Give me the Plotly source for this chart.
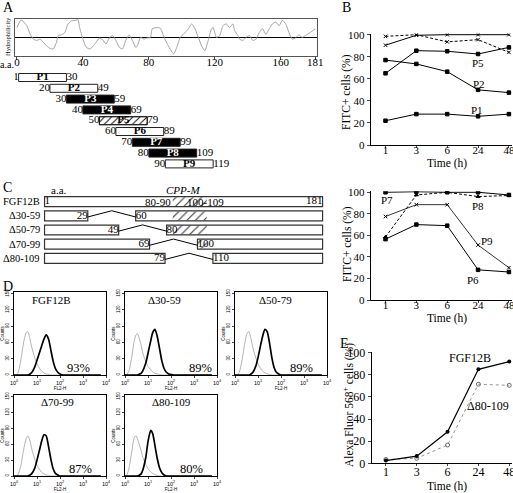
import plotly.graph_objects as go

W, H = 513, 493
SERIF = "Liberation Serif"
SANS = "Liberation Sans"

# ---------------- data ----------------
hyd_aa = [0, 2, 3, 6, 8, 10, 12, 14, 16, 18, 20, 22, 24, 25, 27, 29, 31, 33, 36, 37, 38, 40,
          42, 44, 46, 48, 50, 52, 54, 56, 58, 60, 62, 64, 66, 68, 70, 72, 73, 75, 77, 79, 81,
          82, 85, 87, 89, 91, 95, 97, 99, 101, 104, 106, 108, 110, 112, 114, 116, 118, 119,
          121, 123, 125, 127, 129, 131, 132, 134, 135, 137, 139, 141, 143, 145, 147, 149, 151,
          153, 155, 157, 159, 161, 163, 165, 167, 169, 171, 173, 175, 178, 181]
hyd_val = [1.6, 2.7, 2.8, 1.9, 0.5, -0.3, -0.5, -0.3, -0.8, -1.4, -1.8, -1.9, -0.8, 0.3, 0.4,
           0.8, 2.2, 2.7, 2.8, 2.9, 1.6, -0.3, -1.6, -1.9, -1.5, -0.8, -0.1, -0.4, -1.1, -0.1,
           0.3, -0.5, -1.6, -1.9, -0.5, 0.4, -0.5, -1.6, -1.4, 0.0, -0.3, -0.1, 0.0, 1.4, 1.6,
           1.5, 0.2, -1.0, -2.7, -1.6, 0.0, 0.5, 1.4, 2.2, 1.4, 0.0, -1.4, -2.2, -0.5, 1.4, 1.6,
           0.0, 0.3, 1.9, 2.2, 1.6, 2.2, 1.1, 0.3, -0.3, -0.5, 0.0, 0.3, -0.5, -0.3, 0.8, 1.4,
           0.5, 1.4, 2.2, 2.5, 1.9, 2.8, 2.2, 0.8, -0.3, -0.1, 0.4, 0.0, 0.3, 0.8, 1.4]
a_ticks = [0, 40, 80, 120, 160, 181]

pep_names = ["P1", "P2", "P3", "P4", "P5", "P6", "P7", "P8", "P9"]
pep_start = [1, 20, 30, 40, 50, 60, 70, 80, 90]
pep_end = [30, 49, 59, 69, 79, 89, 99, 109, 119]
pep_fill = ["open", "open", "solid", "solid", "hatched", "open", "solid", "solid", "open"]

time_labels = ["1", "3", "6", "24", "48"]
b_p1 = [22, 28, 28, 26, 28]
b_p2 = [77, 73.5, 66.5, 50, 47.5]
b_p3 = [98.5, 100, 93.5, 95.5, 84]
b_p4 = [90.5, 99.5, 100, 100, 100]
b_p5 = [65, 85.5, 85, 82.5, 88.5]
b_p6 = [56.5, 70, 69, 28, 26]
b_p7 = [100, 100.5, 100, 100, 97.5]
b_p8 = [58.5, 97.5, 100, 96, 97]
b_p9 = [77.5, 88.5, 88.5, 51, 30]

e_fgf12b = [2.5, 6.5, 28.5, 85, 92]
e_d80_109 = [3.5, 4.5, 16.5, 71.5, 70.5]

c_names = ["FGF12B", "\u039430-59", "\u039450-79", "\u039470-99", "\u039480-109"]
c_full = 181
c_left_end = [181, 29, 49, 69, 79]
c_right_start = [None, 60, 80, 100, 110]
cpp_lo, cpp_hi = 84, 106

fl_grid = [1, 1.2, 1.5, 2, 2.5, 3, 3.5, 4, 5, 6, 8, 10, 13, 16, 20, 25, 32, 40, 50, 63, 80,
           100, 130, 160, 200, 400, 1000, 3000, 6000]
d_names = ["FGF12B", "\u039430-59", "\u039450-79", "\u039470-99", "\u039480-109"]
d_pct = ["93%", "89%", "89%", "87%", "80%"]
d_ctrl = [
    [0, 0, 4, 28, 55, 72, 79, 80, 65, 50, 32, 20, 12, 7, 4, 2, 1, 0, 0, 0, 0, 0, 0, 0, 0, 0, 0, 0, 0],
    [0, 1, 8, 35, 62, 74, 76, 70, 55, 40, 25, 16, 10, 6, 3, 2, 1, 0, 0, 0, 0, 0, 0, 0, 0, 0, 0, 0, 0],
    [0, 0, 4, 26, 52, 70, 78, 80, 66, 50, 32, 20, 12, 7, 4, 2, 1, 0, 0, 0, 0, 0, 0, 0, 0, 0, 0, 0, 0],
    [0, 0, 3, 20, 45, 62, 72, 76, 66, 50, 32, 20, 12, 7, 4, 2, 1, 0, 0, 0, 0, 0, 0, 0, 0, 0, 0, 0, 0],
    [0, 2, 15, 48, 72, 76, 70, 62, 48, 35, 22, 14, 8, 5, 3, 1, 0, 0, 0, 0, 0, 0, 0, 0, 0, 0, 0, 0, 0],
]
d_sample = [
    [0, 0, 0, 0, 0, 0, 0, 0, 2, 5, 15, 27, 42, 54, 66, 74, 66, 46, 26, 12, 5, 2, 0, 0, 0, 0, 0, 0, 0],
    [0, 0, 0, 0, 0, 0, 0, 1, 3, 8, 22, 40, 62, 78, 84, 72, 48, 26, 12, 5, 2, 1, 0, 0, 0, 0, 0, 0, 0],
    [0, 0, 0, 0, 0, 0, 0, 0, 2, 5, 16, 32, 55, 72, 84, 80, 58, 32, 14, 5, 2, 0, 0, 0, 0, 0, 0, 0, 0],
    [0, 0, 0, 0, 0, 0, 0, 0, 2, 5, 15, 30, 50, 66, 78, 76, 55, 32, 14, 5, 2, 0, 0, 0, 0, 0, 0, 0, 0],
    [0, 0, 0, 0, 0, 0, 0, 1, 4, 12, 35, 65, 86, 80, 58, 34, 15, 6, 2, 0, 0, 0, 0, 0, 0, 0, 0, 0, 0],
]
d_title_x = [1.65, 1.7, 1.78, 1.9, 2.0]
d_pct_x = [2.8, 3.3, 2.87, 2.87, 2.9]


def xd(a, b):
    return [a / W, b / W]


def yd(top, bottom):
    return [1 - bottom / H, 1 - top / H]


fig = go.Figure()
ann = []


def A(**kw):
    kw.setdefault("xanchor", "center")
    kw.setdefault("yanchor", "middle")
    kw.setdefault("showarrow", False)
    ann.append(kw)


# ---------------- Panel A ----------------
fig.add_trace(go.Scatter(x=hyd_aa, y=hyd_val, mode="lines",
                         line=dict(color="#9a9a9a", width=0.9, shape="spline", smoothing=0.5),
                         xaxis="x", yaxis="y", hoverinfo="skip"))

rows = list(range(1, len(pep_names) + 1))
fills = ["black" if f == "solid" else "white" for f in pep_fill]
fig.add_trace(go.Bar(x=[e - s for s, e in zip(pep_start, pep_end)], base=pep_start, y=rows,
                     orientation="h", width=0.74,
                     marker=dict(color=fills, line=dict(color="#222", width=1)),
                     xaxis="x2", yaxis="y2", hoverinfo="skip"))
hx = [(s, e, r) for s, e, r, f in zip(pep_start, pep_end, rows, pep_fill) if f == "hatched"]
fig.add_trace(go.Bar(x=[e - s for s, e, r in hx], base=[s for s, e, r in hx],
                     y=[r for s, e, r in hx], orientation="h", width=0.74,
                     marker=dict(color="rgba(0,0,0,0)", line=dict(color="#222", width=1),
                                 pattern=dict(shape="/", fgcolor="black", bgcolor="rgba(0,0,0,0)",
                                              size=5, solidity=0.18)),
                     xaxis="x2", yaxis="y2", hoverinfo="skip"))
fig.add_trace(go.Scatter(x=[(s + e) / 2 for s, e in zip(pep_start, pep_end)], y=rows,
                         mode="text", text=["<b>%s</b>" % n for n in pep_names],
                         textfont=dict(family=SERIF, size=11,
                                       color=["white" if f == "solid" else "black" for f in pep_fill]),
                         xaxis="x2", yaxis="y2", hoverinfo="skip"))
fig.add_trace(go.Scatter(x=pep_start, y=rows, mode="text", text=[str(s) for s in pep_start],
                         textposition="middle left", textfont=dict(family=SERIF, size=11, color="black"),
                         xaxis="x2", yaxis="y2", hoverinfo="skip"))
fig.add_trace(go.Scatter(x=pep_end, y=rows, mode="text", text=[str(e) for e in pep_end],
                         textposition="middle right", textfont=dict(family=SERIF, size=11, color="black"),
                         xaxis="x2", yaxis="y2", hoverinfo="skip"))


# ---------------- Panel B ----------------
def line(y, ax, dash="solid", symbol="square", color="black", width=1, size=3.5, fill=None):
    fig.add_trace(go.Scatter(x=time_labels, y=y, mode="lines+markers",
                             line=dict(color=color, width=width, dash=dash),
                             marker=dict(symbol=symbol, size=size, color=fill or color,
                                         line=dict(color=color, width=1)),
                             xaxis="x" + ax, yaxis="y" + ax, hoverinfo="skip"))


line(b_p1, "3", symbol="square")
line(b_p2, "3", symbol="square")
line(b_p3, "3", dash="3px,2px", symbol="x-thin")
line(b_p4, "3", symbol="x-thin")
line(b_p5, "3", symbol="square")

line(b_p6, "4", symbol="square")
line(b_p7, "4", symbol="square")
line(b_p8, "4", dash="3px,2px", symbol="triangle-up")
line(b_p9, "4", width=0.8, symbol="x-thin")

bfont = dict(family=SERIF, size=11, color="black")
for t, x, y in [("P3", 0.25, 106), ("P4", 3.8, 106), ("P5", 2.99, 74), ("P2", 3.04, 55),
                ("P1", 2.96, 32)]:
    A(text=t, x=x, y=y, xref="x3", yref="y3", font=bfont)
for t, x, y in [("P7", 0.05, 93), ("P8", 2.99, 87), ("P9", 3.3, 55), ("P6", 2.83, 19)]:
    A(text=t, x=x, y=y, xref="x4", yref="y4", font=bfont)

# ---------------- Panel C ----------------
crow = list(range(1, len(c_names) + 1))
fig.add_trace(go.Bar(x=[e - 1 for e in c_left_end], base=[1] * len(crow), y=crow,
                     orientation="h", width=0.7,
                     marker=dict(color="white", line=dict(color="#333", width=1.2)),
                     xaxis="x5", yaxis="y5", hoverinfo="skip"))
r2 = [r for r, s in zip(crow, c_right_start) if s is not None]
s2 = [s for s in c_right_start if s is not None]
fig.add_trace(go.Bar(x=[c_full - s for s in s2], base=s2, y=r2, orientation="h", width=0.7,
                     marker=dict(color="white", line=dict(color="#333", width=1.2)),
                     xaxis="x5", yaxis="y5", hoverinfo="skip"))
h_base, h_len, h_row = [], [], []
for r, e, s in zip(crow, c_left_end, c_right_start):
    if s is None:
        h_base.append(cpp_lo); h_len.append(cpp_hi - cpp_lo); h_row.append(r)
    elif s < cpp_hi:
        lo = max(cpp_lo, s)
        h_base.append(lo); h_len.append(cpp_hi - lo); h_row.append(r)
fig.add_trace(go.Bar(x=h_len, base=h_base, y=h_row, orientation="h", width=0.62,
                     marker=dict(color="rgba(0,0,0,0)", line=dict(width=0),
                                 pattern=dict(shape="/", fgcolor="#333", bgcolor="rgba(0,0,0,0)",
                                              size=6, solidity=0.18)),
                     xaxis="x5", yaxis="y5", hoverinfo="skip"))
for r, e, s in zip(crow, c_left_end, c_right_start):
    if s is None:
        continue
    fig.add_trace(go.Scatter(x=[e, (e + s) / 2, s], y=[r + 0.08, r - 0.36, r + 0.08], mode="lines",
                             line=dict(color="black", width=1), xaxis="x5", yaxis="y5",
                             hoverinfo="skip"))
cfont = dict(family=SERIF, size=11, color="black")
fig.add_trace(go.Scatter(x=[e for e in c_left_end], y=crow, mode="text",
                         text=[str(e) for e in c_left_end], textposition="middle left",
                         textfont=cfont, xaxis="x5", yaxis="y5", hoverinfo="skip"))
fig.add_trace(go.Scatter(x=[1] + s2, y=[1] + r2, mode="text",
                         text=[str(v) for v in [1] + s2], textposition="middle right",
                         textfont=cfont, xaxis="x5", yaxis="y5", hoverinfo="skip"))
A(text="80-90", x=84.4, y=1, xref="x5", yref="y5", xanchor="right", font=cfont)
A(text="100-109", x=92, y=1, xref="x5", yref="y5", xanchor="left", font=cfont)
lfont = dict(family=SERIF, size=10.5, color="black")
for r, n in zip(crow, c_names):
    A(text=n, x=42 / W, y=r, xref="paper", yref="y5", xanchor="right", font=lfont)
A(text="a.a.", x=49 / W, y=1 - 189.5 / H, xref="paper", yref="paper", xanchor="left", font=cfont)
A(text="<i>CPP-M</i>", x=183 / W, y=1 - 189.5 / H, xref="paper", yref="paper", font=cfont)

# ---------------- Panel D ----------------
d_boxes = [((14, 106), (292, 375)), ((125, 217), (292, 375)), ((235, 327), (292, 375)),
           ((14, 106), (395, 476)), ((125, 217), (395, 476))]
for i in range(5):
    ax = str(6 + i)
    fig.add_trace(go.Scatter(x=fl_grid, y=d_ctrl[i], mode="lines",
                             line=dict(color="#a8a8a8", width=0.9, shape="spline", smoothing=0.6),
                             xaxis="x" + ax, yaxis="y" + ax, hoverinfo="skip"))
    fig.add_trace(go.Scatter(x=fl_grid, y=d_sample[i], mode="lines",
                             line=dict(color="black", width=1.7, shape="spline", smoothing=0.6),
                             xaxis="x" + ax, yaxis="y" + ax, hoverinfo="skip"))
    A(text=d_names[i], x=d_title_x[i], y=139, xref="x" + ax, yref="y" + ax,
      font=dict(family=SERIF, size=11, color="black"))
    A(text=d_pct[i], x=d_pct_x[i], y=13, xref="x" + ax, yref="y" + ax,
      font=dict(family=SERIF, size=12.5, color="black"))

# ---------------- Panel E ----------------
fig.add_trace(go.Scatter(x=time_labels, y=e_d80_109, mode="lines+markers",
                         line=dict(color="#888", width=0.9, dash="dot"),
                         marker=dict(symbol="circle-open", size=4, color="#666", line=dict(width=1)),
                         xaxis="x11", yaxis="y11", hoverinfo="skip"))
fig.add_trace(go.Scatter(x=time_labels, y=e_fgf12b, mode="lines+markers",
                         line=dict(color="black", width=1.2),
                         marker=dict(symbol="circle", size=4, color="black"),
                         xaxis="x11", yaxis="y11", hoverinfo="skip"))
A(text="FGF12B", x=2.73, y=95, xref="x11", yref="y11", font=dict(family=SERIF, size=12, color="black"))
A(text="\u039480-109", x=3.32, y=52, xref="x11", yref="y11", font=dict(family=SERIF, size=12, color="black"))


def pann(text, x, y, size=12, angle=0, **kw):
    A(text=text, x=x / W, y=1 - y / H, xref="paper", yref="paper", textangle=angle,
      font=dict(family=SERIF, size=size, color="black"), **kw)


for t, x, y in [("A", 8, 7), ("B", 346, 7), ("C", 7, 188), ("D", 8, 286), ("E", 344, 343)]:
    pann(t, x, y, size=14)
pann("Hydrophilicity", 7, 37, size=6.5, angle=-90)
pann("a.a.", 16, 64.5, size=10, xanchor="right")
pann("FITC+ cells (%)", 347, 92, size=11.5, angle=-90)
pann("Time (h)", 447, 163, size=11.5)
pann("FITC+ cells (%)", 347, 244, size=11.5, angle=-90)
pann("Time (h)", 447, 318, size=11.5)
pann("Alexa Fluor 568<sup>+</sup> cells (%)", 348, 405, size=11.5, angle=-90)
pann("Time (h)", 447, 486, size=11.5)

# ---------------- layout ----------------
tf = dict(family=SERIF, size=11, color="black")
lay = dict(template="none", width=W, height=H, margin=dict(l=0, r=0, t=0, b=0, pad=0),
           autosize=False, showlegend=False,
           plot_bgcolor="white", paper_bgcolor="white", barmode="overlay",
           annotations=ann)

lay["xaxis"] = dict(domain=xd(15, 317), range=[-1.2, 182], anchor="y", tickvals=a_ticks,
                    ticks="outside", ticklen=3, tickcolor="#444", showline=True, mirror=True,
                    linecolor="#555", linewidth=1, showgrid=False, zeroline=False, tickfont=tf,
                    ticklabelstandoff=-7, automargin=False)
lay["yaxis"] = dict(domain=yd(19, 55.7), range=[-3, 3], anchor="x", showticklabels=False,
                    ticks="", showline=True, mirror=True, linecolor="#555", linewidth=1,
                    showgrid=False, zeroline=True, zerolinecolor="black", zerolinewidth=1.2,
                    automargin=False)
lay["xaxis2"] = dict(domain=xd(15, 317), range=[-1.2, 182], anchor="y2", visible=False,
                     automargin=False)
lay["yaxis2"] = dict(domain=yd(72.1, 169.3), range=[9.5, 0.5], anchor="x2", visible=False,
                     automargin=False)

for ax, (top, bot) in [("3", (33.6, 145)), ("4", (191.2, 300))]:
    lay["xaxis" + ax] = dict(domain=xd(370.7, 512), type="category", range=[-0.48, 4.1],
                             anchor="y" + ax, ticks="outside", ticklen=2, showline=True,
                             linecolor="black", linewidth=1, showgrid=False, zeroline=False,
                             tickfont=tf, ticklabelstandoff=-7, automargin=False)
    lay["yaxis" + ax] = dict(domain=yd(top, bot), range=[0, 101], anchor="x" + ax,
                             tickvals=[0, 20, 40, 60, 80, 100], ticks="outside", ticklen=3,
                             showline=True, linecolor="black", linewidth=1, showgrid=False,
                             zeroline=False, tickfont=tf, automargin=False)

lay["xaxis5"] = dict(domain=xd(43, 330), range=[0, 185.8], anchor="y5", visible=False,
                     automargin=False)
lay["yaxis5"] = dict(domain=yd(194.6, 265.4), range=[5.5, 0.5], anchor="x5", visible=False,
                     automargin=False)

small = dict(family=SANS, size=4.5, color="black")
for i, ((xa, xb), (ya, yb)) in enumerate(d_boxes):
    ax = str(6 + i)
    lay["xaxis" + ax] = dict(domain=xd(xa, xb), type="log", range=[0, 4], anchor="y" + ax,
                             tickvals=[1, 10, 100, 1000, 10000],
                             ticktext=["10<sup>%d</sup>" % k for k in range(5)],
                             ticks="outside", ticklen=2, showline=True, mirror=True,
                             linecolor="black", linewidth=1, showgrid=False, zeroline=False,
                             tickfont=dict(family=SANS, size=5.5, color="black"),
                             title=dict(text="FL2-H", font=small, standoff=0), automargin=False)
    lay["yaxis" + ax] = dict(domain=yd(ya, yb), range=[0, 153], anchor="x" + ax,
                             tickvals=[0, 30, 60, 90, 120, 150], tickangle=-90,
                             ticks="outside", ticklen=2, showline=True, mirror=True,
                             linecolor="black", linewidth=1, showgrid=False, zeroline=False,
                             tickfont=small,
                             title=dict(text="Counts", font=small, standoff=0), automargin=False)

lay["xaxis11"] = dict(domain=xd(371.7, 512), type="category", range=[-0.46, 4.09],
                      anchor="y11", ticks="outside", ticklen=2, showline=True,
                      linecolor="black", linewidth=1, showgrid=False, zeroline=False,
                      tickfont=dict(family=SERIF, size=12, color="black"),
                      ticklabelstandoff=-5, automargin=False)
lay["yaxis11"] = dict(domain=yd(351.6, 463.3), range=[0, 101], anchor="x11",
                      tickvals=[0, 20, 40, 60, 80, 100], ticks="outside", ticklen=3,
                      showline=True, linecolor="black", linewidth=1, showgrid=False,
                      zeroline=False, tickfont=dict(family=SERIF, size=12, color="black"),
                      automargin=False)

fig.update_layout(**lay)
fig.write_html("out.html", config={"displayModeBar": False, "staticPlot": True},
               post_script="document.body.style.margin='0px';document.body.style.overflow='hidden';")
